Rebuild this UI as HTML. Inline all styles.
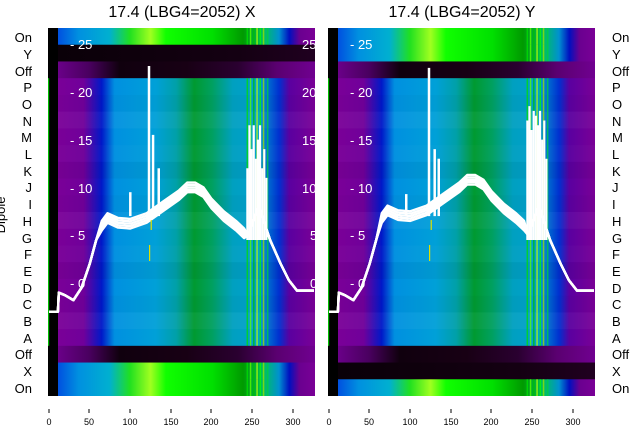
<!DOCTYPE html>
<html><head><meta charset="utf-8">
<style>
body{margin:0;background:#fff;width:640px;height:440px;overflow:hidden}
svg{display:block}
text{font-family:"Liberation Sans","DejaVu Sans",sans-serif}
</style></head><body>
<svg id="s" width="640" height="440" viewBox="0 0 640 440">
<defs>
<linearGradient id="gOn" x1="0" x2="1" y1="0" y2="0">
<stop offset="0" stop-color="#0050e0"/><stop offset="0.08" stop-color="#0090e0"/>
<stop offset="0.2" stop-color="#00b0d0"/><stop offset="0.28" stop-color="#20e020"/>
<stop offset="0.36" stop-color="#a0ff20"/><stop offset="0.42" stop-color="#10ff00"/>
<stop offset="0.6" stop-color="#00e000"/><stop offset="0.72" stop-color="#009a00"/>
<stop offset="0.8" stop-color="#00c060"/><stop offset="0.86" stop-color="#0090d0"/>
<stop offset="0.9" stop-color="#0010c0"/><stop offset="0.94" stop-color="#6a0090"/>
<stop offset="1" stop-color="#7a0096"/></linearGradient>
<linearGradient id="gOff" x1="0" x2="1" y1="0" y2="0">
<stop offset="0" stop-color="#6a0088"/><stop offset="0.12" stop-color="#4a0060"/>
<stop offset="0.24" stop-color="#10000e"/><stop offset="0.5" stop-color="#180014"/>
<stop offset="0.7" stop-color="#2a0030"/><stop offset="0.85" stop-color="#5a0070"/>
<stop offset="1" stop-color="#700090"/></linearGradient>
<linearGradient id="gBlk" x1="0" x2="1" y1="0" y2="0">
<stop offset="0" stop-color="#0a0008"/><stop offset="0.7" stop-color="#140012"/><stop offset="1" stop-color="#200020"/></linearGradient>
<linearGradient id="gMid" x1="0" x2="1" y1="0" y2="0">
<stop offset="0" stop-color="#7a0098"/><stop offset="0.1" stop-color="#70009a"/>
<stop offset="0.17" stop-color="#0018c8"/><stop offset="0.22" stop-color="#0090e0"/>
<stop offset="0.38" stop-color="#00a0d8"/><stop offset="0.46" stop-color="#00a0a8"/>
<stop offset="0.53" stop-color="#009a30"/><stop offset="0.6" stop-color="#00a060"/>
<stop offset="0.68" stop-color="#00a0c0"/><stop offset="0.78" stop-color="#00a0d0"/>
<stop offset="0.86" stop-color="#0030d0"/><stop offset="0.9" stop-color="#5a00a0"/>
<stop offset="1" stop-color="#7a0096"/></linearGradient>
<clipPath id="c1"><rect x="48" y="28" width="267" height="368"/></clipPath>
<clipPath id="c2"><rect x="328" y="28" width="267" height="368"/></clipPath>
</defs>
<g id="p1" clip-path="url(#c1)"></g>
<g id="p2" clip-path="url(#c2)"></g>
<g font-size="16" text-anchor="middle" fill="#000">
<text x="182" y="17">17.4 (LBG4=2052) X</text>
<text x="462" y="17">17.4 (LBG4=2052) Y</text></g>
<g font-size="13" text-anchor="end" fill="#000">
<text x="32" y="42">On</text><text x="32" y="59">Y</text><text x="32" y="76">Off</text><text x="32" y="92">P</text><text x="32" y="109">O</text><text x="32" y="126">N</text><text x="32" y="142">M</text><text x="32" y="159">L</text><text x="32" y="176">K</text><text x="32" y="192">J</text><text x="32" y="209">I</text><text x="32" y="226">H</text><text x="32" y="243">G</text><text x="32" y="259">F</text><text x="32" y="276">E</text><text x="32" y="293">D</text><text x="32" y="309">C</text><text x="32" y="326">B</text><text x="32" y="343">A</text><text x="32" y="359">Off</text><text x="32" y="376">X</text><text x="32" y="393">On</text></g>
<g font-size="13" text-anchor="start" fill="#000">
<text x="612" y="42">On</text><text x="612" y="59">Y</text><text x="612" y="76">Off</text><text x="612" y="92">P</text><text x="612" y="109">O</text><text x="612" y="126">N</text><text x="612" y="142">M</text><text x="612" y="159">L</text><text x="612" y="176">K</text><text x="612" y="192">J</text><text x="612" y="209">I</text><text x="612" y="226">H</text><text x="612" y="243">G</text><text x="612" y="259">F</text><text x="612" y="276">E</text><text x="612" y="293">D</text><text x="612" y="309">C</text><text x="612" y="326">B</text><text x="612" y="343">A</text><text x="612" y="359">Off</text><text x="612" y="376">X</text><text x="612" y="393">On</text></g>
<text x="5" y="215" font-size="13" transform="rotate(-90 5 215)" text-anchor="middle">Dipole</text>
<g font-size="9" text-anchor="middle" fill="#000">
<text x="49" y="425">0</text><text x="89" y="425">50</text><text x="130" y="425">100</text><text x="171" y="425">150</text><text x="211" y="425">200</text><text x="252" y="425">250</text><text x="293" y="425">300</text>
<text x="329" y="425">0</text><text x="369" y="425">50</text><text x="410" y="425">100</text><text x="451" y="425">150</text><text x="491" y="425">200</text><text x="532" y="425">250</text><text x="573" y="425">300</text></g>
<g stroke="#000" stroke-width="1">
<path d="M49 409v4M89 409v4M130 409v4M171 409v4M211 409v4M252 409v4M293 409v4M329 409v4M369 409v4M410 409v4M451 409v4M491 409v4M532 409v4M573 409v4"/></g>
<g font-size="13" fill="#fff" id="yl">
<text x="70" y="49">- 25</text><text x="70" y="97">- 20</text><text x="70" y="145">- 15</text><text x="70" y="193">- 10</text><text x="70" y="240">- 5</text><text x="70" y="288">- 0</text>
<text x="302" y="49">25</text><text x="302" y="97">20</text><text x="302" y="145">15</text><text x="302" y="193">10</text><text x="310" y="240">5</text><text x="310" y="288">0</text>
<text x="350" y="49">- 25</text><text x="350" y="97">- 20</text><text x="350" y="145">- 15</text><text x="350" y="193">- 10</text><text x="350" y="240">- 5</text><text x="350" y="288">- 0</text>
</g>
</svg>
<script>
var NS="http://www.w3.org/2000/svg";
function el(p,t,a){var e=document.createElementNS(NS,t);for(var k in a)e.setAttribute(k,a[k]);p.appendChild(e);return e;}
var rh=368/22;
function panel(id,x0,isY){
 var g=document.getElementById(id);
 var rows;
 if(!isY){rows=["on","blk","off"];for(var i=0;i<16;i++)rows.push("mid");rows.push("off","on","on");}
 else{rows=["on","on","off"];for(var i=0;i<16;i++)rows.push("mid");rows.push("off","blk","on");}
 var fills={on:"url(#gOn)",off:"url(#gOff)",blk:"url(#gBlk)",mid:"url(#gMid)"};
 var S=0.813;
 var stripes=[[243,"#00e000"],[247,"#60ff00"],[251,"#00c000"],[255,"#c0ff00"],[259,"#00ff00"],[263,"#a0e000"],[268,"#00d040"]];
 for(var i=0;i<22;i++){
  var y=28+i*rh;
  el(g,"rect",{x:x0+10,y:y,width:257,height:rh+0.5,fill:fills[rows[i]]});
  if(rows[i]=="mid"){var sh=(i%3)*0.02;el(g,"rect",{x:x0+10,y:y,width:257,height:rh+0.5,fill:i%2?"rgba(255,255,255,"+sh+")":"rgba(0,0,0,"+sh+")"});}
  if(rows[i]=="mid"||rows[i]=="on"){
   stripes.forEach(function(s){el(g,"rect",{x:x0+1+s[0]*S,y:y,width:1.5,height:rh+0.5,fill:s[1],opacity:0.75});});
  }
 }
 el(g,"rect",{x:x0,y:28,width:10,height:368,fill:"#000"});
 el(g,"rect",{x:x0,y:28+3*rh,width:1.2,height:16*rh,fill:"#00c000"});
 var base=[[0,-3],[11,-3],[12,-1],[20,-1.3],[30,-1.8],[40,-0.5],[50,2],[58,4.5],[65,6],[72,6.8],[85,6.3],[100,6.2],[120,6.8],[140,8],[160,9.2],[170,10],[180,10],[190,9.5],[200,8.3],[215,7],[230,6],[240,5.2],[245,5],[258,8],[272,4.5],[285,2],[295,0.3],[305,-0.8],[326,-0.8]];
 var sp=isY?[[95,100,9.3],[123,124,22.5],[130,131,14],[135,136,13]]:[[100,101,9.5],[123,124,22.7],[128,129,15.5],[135,136,12]];
 for(var k=0;k<5;k++){
  var off=(k-2)*0.25;
  var pts=[];
  base.forEach(function(p){var v=p[1];if(p[0]>60&&p[0]<245)v+=off+(isY?0.8:0);pts.push([p[0],v]);});
  var d=pts.map(function(p,j){return (j?"L":"M")+(x0+1+p[0]*S).toFixed(1)+" "+(283-p[1]*9.56).toFixed(1);}).join("");
  el(g,"path",{d:d,stroke:"#fff","stroke-width":2.4,fill:"none","stroke-linejoin":"round"});
 }
 sp.forEach(function(s){
  el(g,"path",{d:"M"+(x0+1+s[0]*S)+" "+(283-7*9.56)+"V"+(283-s[2]*9.56),stroke:"#fff","stroke-width":2.5});
 });
 var hs=isY?[17,18.5,16,18,17.5,16.5,18,15,17,13]:[12,16.5,14,16.5,13,15,16.5,12,14,11];
 for(var j=0;j<hs.length;j++){var u=244+j*2.6;
  el(g,"path",{d:"M"+(x0+1+u*S)+" "+(283-4.5*9.56)+"V"+(283-hs[j]*9.56),stroke:"#fff","stroke-width":2.2});}
 el(g,"rect",{x:x0+1+123*S,y:245,width:1.2,height:16,fill:"#e0e000"});
 el(g,"rect",{x:x0+1+125*S,y:220,width:1.2,height:10,fill:"#e0e000"});
}
panel("p1",48,false);
panel("p2",328,true);
</script>
</body></html>
